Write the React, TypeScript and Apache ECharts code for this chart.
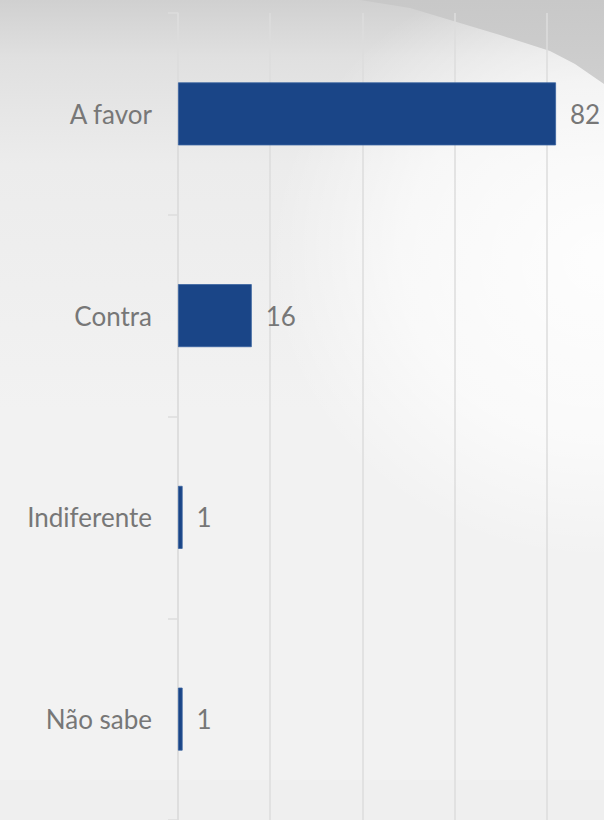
import React, { useEffect, useRef } from "react";
import * as echarts from "echarts";

const categories = ["A favor", "Contra", "Indiferente", "Não sabe"];
const values = [82, 16, 1, 1];
const axisMin = 0;
const axisMax = 100;
const axisInterval = 20;

export default function App() {
  const ref = useRef<HTMLDivElement>(null);
  useEffect(() => {
    if (!ref.current) return;
    const chart = echarts.init(ref.current, undefined, { renderer: "svg" });
    const W = 700;
    const H = 820;
    chart.setOption({
      animation: false,
      graphic: {
        elements: [
          {
            type: "rect",
            z: -100,
            silent: true,
            shape: { x: 0, y: 0, width: W, height: H },
            style: {
              fill: new echarts.graphic.LinearGradient(0, 0, 0, 1, [
                { offset: 0, color: "#d0d0d0" },
                { offset: 0.07, color: "#e0e0e0" },
                { offset: 0.2, color: "#ececec" },
                { offset: 0.5, color: "#f2f2f2" },
                { offset: 1, color: "#f2f2f2" },
              ]),
            },
          },
          {
            type: "ellipse",
            z: -99,
            silent: true,
            shape: { cx: 600, cy: 260, rx: 330, ry: 300 },
            style: {
              fill: new echarts.graphic.RadialGradient(0.5, 0.5, 0.5, [
                { offset: 0, color: "rgba(255,255,255,0.9)" },
                { offset: 0.6, color: "rgba(255,255,255,0.6)" },
                { offset: 1, color: "rgba(255,255,255,0)" },
              ]),
            },
          },
          {
            type: "polygon",
            z: -98,
            silent: true,
            shape: {
              points: [
                [360, 0],
                [700, 0],
                [700, 150],
                [604, 84],
                [575, 64],
                [550, 51],
                [500, 35],
                [450, 20],
                [410, 8],
              ],
            },
            style: {
              fill: new echarts.graphic.LinearGradient(0, 0, 0, 1, [
                { offset: 0, color: "#c8c8c8" },
                { offset: 1, color: "#d4d4d4" },
              ]),
            },
          },
          {
            type: "rect",
            z: -97,
            silent: true,
            shape: { x: 0, y: 780, width: W, height: 40 },
            style: { fill: "rgba(0,0,0,0.012)" },
          },
        ],
      },
      grid: { left: 178, top: 13, width: 461, height: 812, containLabel: false },
      xAxis: {
        type: "value",
        min: axisMin,
        max: axisMax,
        interval: axisInterval,
        axisLabel: { show: false },
        axisLine: { show: false },
        axisTick: { show: false },
        splitLine: { show: true, lineStyle: { color: "#dddddd", width: 1.5 } },
      },
      yAxis: {
        type: "category",
        data: categories,
        inverse: true,
        axisLine: { show: true, lineStyle: { color: "#dcdcdc", width: 1.5 } },
        axisTick: { show: true, length: 10, lineStyle: { color: "#dcdcdc", width: 1.5 } },
        axisLabel: {
          margin: 26,
          fontSize: 26,
          color: "#777777",
          fontFamily: "Lato",
        },
      },
      series: [
        {
          type: "bar",
          data: values,
          barWidth: 63,
          itemStyle: { color: "#1a4587", borderColor: "#3a63a0", borderWidth: 0.8 },
          label: {
            show: true,
            position: "right",
            distance: 14,
            fontSize: 26,
            color: "#777777",
            fontFamily: "Lato",
          },
        },
      ],
    });
    return () => chart.dispose();
  }, []);
  return (
    <div style={{ position: "absolute", left: 0, top: 0, width: 604, height: 820, overflow: "hidden" }}>
      <div ref={ref} style={{ width: 700, height: 820 }} />
    </div>
  );
}
